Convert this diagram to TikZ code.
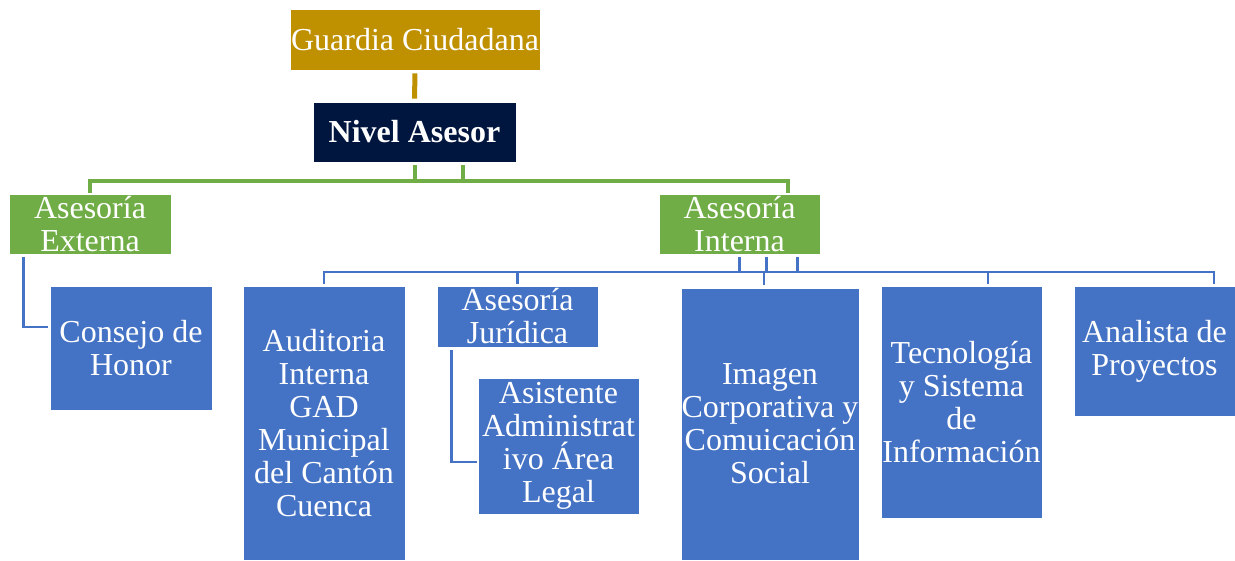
\documentclass[tikz,border=0pt]{standalone}
\usepackage{fontspec}
\setmainfont{Liberation Serif}
\definecolor{gold}{HTML}{BF9000}
\definecolor{navy}{HTML}{00163F}
\definecolor{grn}{HTML}{70AD47}
\definecolor{blu}{HTML}{4472C4}
\begin{document}
\begin{tikzpicture}[x=1pt,y=-1pt,
  box/.style={draw=white,line width=0.8pt,inner sep=0pt,align=center,text=white,
    font=\fontsize{32}{33}\selectfont},
  goldline/.style={gold,line width=5pt},
  greenline/.style={grn,line width=4pt},
  blueline/.style={blu,line width=2.8pt}]
\useasboundingbox (0,0) rectangle (1235,560);
\node[box,fill=gold,minimum width=250pt,minimum height=61pt] (gc) at (415,39.5) {Guardia Ciudadana};
\node[box,fill=navy,minimum width=203pt,minimum height=60pt,font=\fontsize{32}{33}\selectfont\bfseries] (na) at (414.5,132) {Nivel Asesor};
\node[box,fill=grn,minimum width=162pt,minimum height=60pt] (ae) at (90,224) {Asesoría\\Externa};
\node[box,fill=grn,minimum width=161pt,minimum height=60pt] (ai) at (739.5,224) {Asesoría\\Interna};
\node[box,fill=blu,minimum width=162pt,minimum height=124pt] (con) at (131,348) {Consejo de\\Honor};
\node[box,fill=blu,minimum width=162pt,minimum height=274pt] (aud) at (324,423) {Auditoria\\Interna\\GAD\\Municipal\\del Cantón\\Cuenca};
\node[box,fill=blu,minimum width=161pt,minimum height=61pt] (jur) at (517.5,316.5) {Asesoría\\Jurídica};
\node[box,fill=blu,minimum width=161pt,minimum height=136pt] (asi) at (558.5,446) {Asistente\\Administrat\\ivo Área\\Legal};
\node[box,fill=blu,minimum width=178pt,minimum height=272pt] (img) at (770,424) {Imagen\\Corporativa y\\Comuicación\\Social};
\node[box,fill=blu,minimum width=161pt,minimum height=232pt] (tec) at (961.5,402) {Tecnología\\y Sistema\\de\\Información};
\node[box,fill=blu,minimum width=161pt,minimum height=130pt] (ana) at (1154.5,351) {Analista de\\Proyectos};

\coordinate (gbus) at (0,181);
\coordinate (bbus) at (0,272);

\draw[goldline,shorten <=3pt,shorten >=3pt] (gc.south) -- (na.north);

\draw[greenline,shorten <=3pt,shorten >=1pt] (na.south) -- (na.south |- gbus) -| ([xshift=48.5pt]ai.north);
\draw[greenline,shorten <=3pt,shorten >=1pt] ([xshift=48pt]na.south) -- ([xshift=48pt]na.south |- gbus) -| (ae.north);

\draw[blueline,shorten <=3pt,shorten >=2pt] ([xshift=58pt]ai.south) -- ([xshift=58pt]ai.south |- bbus) -| (aud.north);
\draw[blueline,shorten <=3pt,shorten >=2pt] ([xshift=58pt]ai.south) -- ([xshift=58pt]ai.south |- bbus) -| (jur.north);
\draw[blueline,shorten <=3pt,shorten >=3pt] ([xshift=27pt]ai.south) -- ([xshift=27pt]ai.south |- bbus) -| ([xshift=-6pt]img.north);
\draw[blueline,shorten <=3pt,shorten >=2pt] (ai.south) -- (ai.south |- bbus) -| ([xshift=26.5pt]tec.north);
\draw[blueline,shorten <=3pt,shorten >=2pt] (ai.south) -- (ai.south |- bbus) -| ([xshift=59.5pt]ana.north);

\draw[blueline,shorten <=3pt,shorten >=2pt] ([xshift=15pt]ae.south west) |- ([yshift=21pt]con.west);
\draw[blueline,shorten <=3pt,shorten >=1pt] ([xshift=15pt]jur.south west) |- ([yshift=-16pt]asi.west);
\end{tikzpicture}
\end{document}
